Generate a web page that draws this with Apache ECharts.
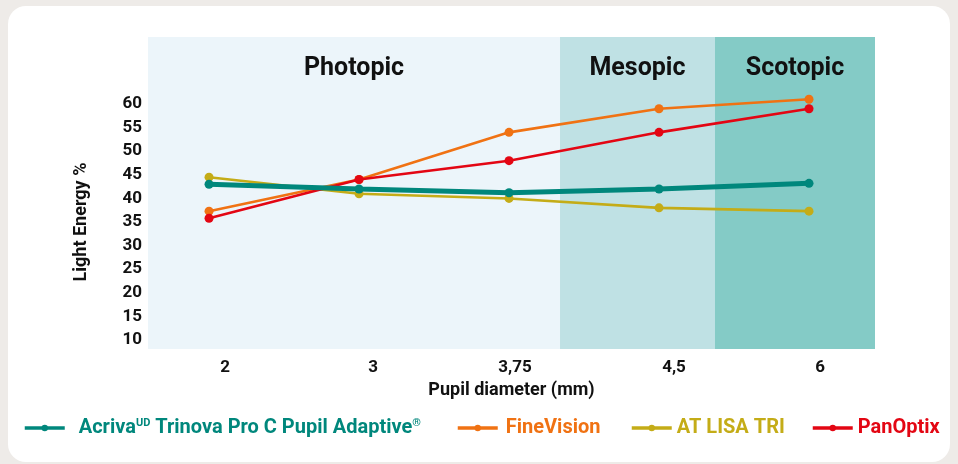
<!DOCTYPE html>
<html>
<head>
<meta charset="utf-8">
<script src="https://cdn.jsdelivr.net/npm/echarts@6/dist/echarts.min.js"></script>
<style>
  html, body { margin: 0; padding: 0; background: #eeebe8; }
  #chart { width: 958px; height: 464px; }
</style>
</head>
<body>
<div id="chart"></div>
<script>
// ---- data ----
const categories = ['2', '3', '3,75', '4,5', '6'];
const xIndex = [0, 1, 2, 3, 4];
const acriva = [43, 42, 41.2, 42, 43.2];
const fineVision = [37.3, 44, 54, 59, 61];
const atLisa = [44.5, 41, 40, 38, 37.3];
const panOptix = [35.8, 44, 48, 54, 59];
const yTicks = [10, 15, 20, 25, 30, 35, 40, 45, 50, 55, 60];
const zoneNames = ['Photopic', 'Mesopic', 'Scotopic'];
const zoneEdges = [-0.407, 2.34, 3.373, 4.44];
const seriesNames = ['AcrivaUD Trinova Pro C Pupil Adaptive®', 'FineVision', 'AT LISA TRI', 'PanOptix'];

// ---- style ----
const FONT = 'Roboto';
const colors = ['#00877c', '#f07213', '#c4ac17', '#e30613'];
const zoneColors = ['#ecf5fa', '#bfe1e4', '#84cbc6'];
const labelShift = [16, 14, 6, 15, 11];

const pairs = arr => xIndex.map((x, i) => [x, arr[i]]);
const allValues = [acriva, fineVision, atLisa, panOptix];

const xRich = {};
labelShift.forEach((s, i) => {
  xRich['l' + i] = { fontFamily: FONT, fontWeight: 'bold', fontSize: 17, color: '#111', padding: [0, 0, 0, s * 2] };
});

const lineSeries = allValues.map((vals, i) => ({
  name: seriesNames[i],
  type: 'line',
  data: pairs(vals),
  symbol: 'circle',
  symbolSize: 9,
  showSymbol: true,
  z: i === 0 ? 6 : 3 + i * 0.1,
  lineStyle: { color: colors[i], width: i === 0 ? 5 : 2.6 },
  itemStyle: { color: colors[i] },
  emphasis: { disabled: true },
  animation: false
}));

const zoneSeries = {
  type: 'line',
  data: [],
  z: 0,
  silent: true,
  animation: false,
  markArea: {
    silent: true,
    data: zoneNames.map((n, i) => [
      {
        name: n,
        xAxis: zoneEdges[i],
        itemStyle: { color: zoneColors[i] },
        label: {
          show: true, position: 'insideTop', distance: 19,
          fontFamily: FONT, fontWeight: 'bold', fontSize: 25, color: '#111'
        }
      },
      { xAxis: zoneEdges[i + 1] }
    ])
  }
};

const legendLefts = [23, 456, 630, 811];
const legendPads = [9, 3, 0, 0];
const legends = seriesNames.map((n, i) => ({
  data: [n],
  left: i >= 2 ? legendLefts[i] : legendLefts[i],
  top: 418,
  padding: 0,
  itemWidth: 40,
  itemHeight: 8,
  selectedMode: false,
  lineStyle: { width: 3.5 },
  formatter: i === 0 ? () => '{t|Acriva}{s|UD}{t| Trinova Pro C Pupil Adaptive}{s|®}' : undefined,
  textStyle: {
    fontFamily: FONT, fontWeight: 'bold', fontSize: 20, color: colors[i],
    padding: [0, 0, 0, legendPads[i]],
    rich: {
      t: { fontFamily: FONT, fontWeight: 'bold', fontSize: 20, color: colors[0] },
      s: { fontFamily: FONT, fontWeight: 'bold', fontSize: 11, color: colors[0], padding: [0, 0, 9, 0] }
    }
  }
}));

const option = {
  animation: false,
  graphic: [{
    type: 'rect', z: -100, silent: true,
    shape: { x: 8, y: 6, width: 942, height: 456, r: 18 },
    style: { fill: '#ffffff' }
  }],
  grid: { left: 148, right: 83, top: 37, bottom: 115 },
  legend: legends,
  xAxis: {
    type: 'value',
    min: zoneEdges[0],
    max: zoneEdges[3],
    name: 'Pupil diameter (mm)',
    nameLocation: 'middle',
    nameGap: 32,
    nameTextStyle: { fontFamily: FONT, fontWeight: 'bold', fontSize: 18, color: '#111' },
    axisLine: { show: false },
    axisTick: { show: false },
    splitLine: { show: false },
    axisLabel: {
      customValues: xIndex,
      margin: 10,
      formatter: v => { const i = Math.round(v); return '{l' + i + '|' + categories[i] + '}'; },
      rich: xRich
    }
  },
  yAxis: {
    type: 'value',
    min: 8.1,
    max: 74.2,
    name: 'Light Energy %',
    nameLocation: 'middle',
    nameGap: 58,
    nameRotate: 90,
    nameTextStyle: { fontFamily: FONT, fontWeight: 'bold', fontSize: 18, color: '#111', padding: [0, 58, 0, 0] },
    axisLine: { show: false },
    axisTick: { show: false },
    splitLine: { show: false },
    axisLabel: {
      customValues: yTicks,
      margin: 6,
      fontFamily: FONT, fontWeight: 'bold', fontSize: 17, color: '#111'
    }
  },
  series: [zoneSeries].concat(lineSeries)
};

const chart = echarts.init(document.getElementById('chart'));
chart.setOption(option);
</script>
</body>
</html>
